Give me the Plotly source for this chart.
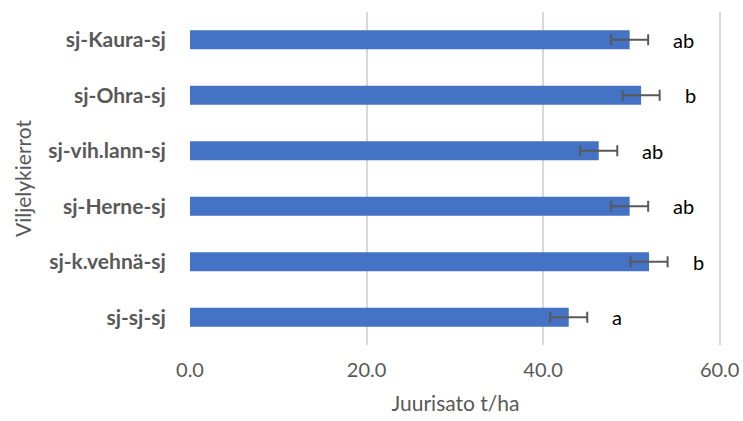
import plotly.graph_objects as go

# Crop rotations, listed bottom to top as drawn on the category axis
rotations = ["sj-sj-sj", "sj-k.vehnä-sj", "sj-Herne-sj",
             "sj-vih.lann-sj", "sj-Ohra-sj", "sj-Kaura-sj"]
root_yield = [42.9, 52.0, 49.8, 46.3, 51.1, 49.8]   # t/ha
yield_err = [2.1, 2.1, 2.1, 2.1, 2.1, 2.1]
group_letters = ["a", "b", "ab", "ab", "b", "ab"]
x_ticks = [0, 20, 40, 60]
x_tick_text = ["0.0", "20.0", "40.0", "60.0"]

BAR = "#4472C4"
GREY = "#595959"
GRID = "#D9D9D9"
FONT = "Lato"

fig = go.Figure(go.Bar(
    y=rotations, x=root_yield, orientation="h",
    marker=dict(color=BAR, line=dict(width=0)),
    error_x=dict(type="data", array=yield_err, visible=True,
                 color=GREY, thickness=2, width=5.5),
))

# significance letters to the right of each error bar
for cat, v, e, lab in zip(rotations, root_yield, yield_err, group_letters):
    fig.add_annotation(x=v + e, y=cat, text=lab, showarrow=False,
                       xanchor="left", xshift=23,
                       font=dict(family=FONT, size=20, color="black"))

fig.update_layout(
    width=743, height=421,
    margin=dict(l=190, r=22, t=12, b=76),
    paper_bgcolor="white", plot_bgcolor="white",
    bargap=0.655, showlegend=False,
    font=dict(family=FONT, color=GREY),
)
fig.update_xaxes(
    range=[0, 60.15], tickvals=x_ticks, ticktext=x_tick_text,
    automargin=False,
    showgrid=True, gridcolor=GRID, gridwidth=2, zeroline=False,
    showline=False, ticks="outside", ticklen=7, tickcolor="rgba(0,0,0,0)",
    tickfont=dict(family=FONT, size=20, color=GREY),
    title=dict(text="Juurisato t/ha", standoff=16,
               font=dict(family=FONT, size=21, color=GREY)),
)
fig.update_yaxes(
    categoryorder="array", categoryarray=rotations,
    automargin=False,
    showgrid=False, showline=False, zeroline=False,
    ticks="outside", ticklen=19, tickcolor="rgba(0,0,0,0)",
    tickfont=dict(family=FONT, size=21, color=GREY, weight="bold"),
    title=dict(text="Viljelykierrot", standoff=10,
               font=dict(family=FONT, size=21, color=GREY)),
)

fig.write_html("out.html")
